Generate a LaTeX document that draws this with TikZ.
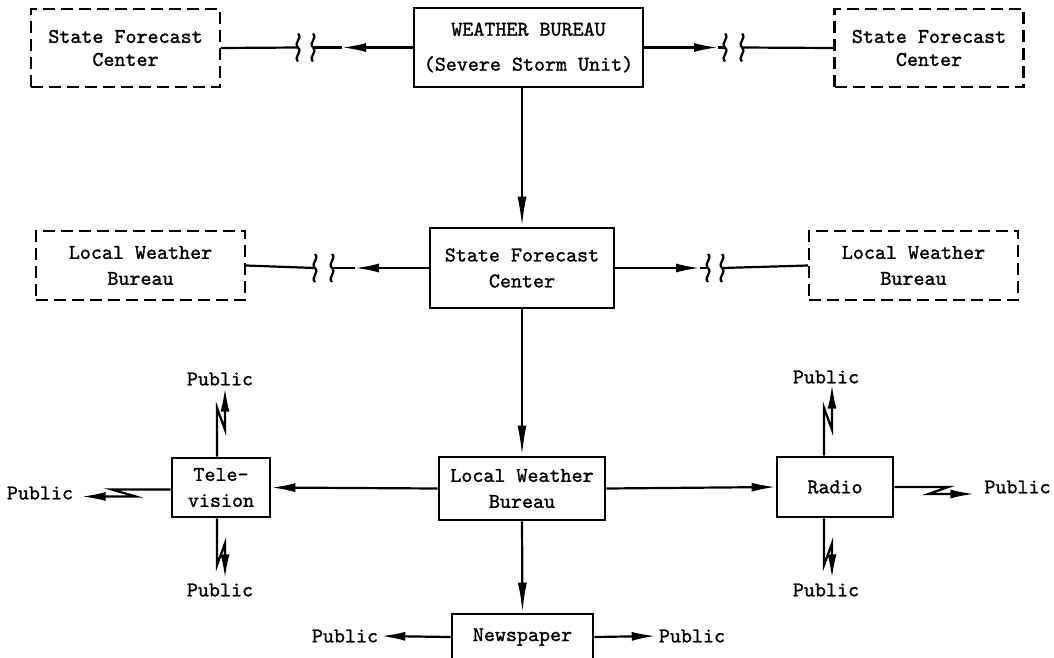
\documentclass[tikz,border=0pt]{standalone}
\usepackage{fontspec}
\newfontfamily\tw[FakeBold=1.2]{lmmono10-regular.otf}
\usetikzlibrary{arrows.meta}
\tikzset{
 tt/.style={font=\tw\fontsize{21}{26}\selectfont},
 box/.style={draw, line width=2.6pt, tt, align=center, inner sep=0pt},
 dbox/.style={box, dash pattern=on 12pt off 6pt, line width=2.4pt},
 ln/.style={line width=2.2pt},
 arr/.style={ln, -{Latex[length=24pt,width=9pt]}},
 varr/.style={ln, -{Latex[length=30pt,width=9pt]}},
 brkline/.style={line width=2.2pt},
 brk/.pic={\draw[brkline] (0,-14) .. controls (5,-9) and (-5,-5) .. (0,0) .. controls (5,5) and (-5,9) .. (0,14);},
 lab/.style={tt, inner sep=3pt},
}
\begin{document}
\begin{tikzpicture}[x=1pt,y=-1pt]
\useasboundingbox (0,0) rectangle (1054,657);
\clip (0,0) rectangle (1054,657);
% boxes
\node[dbox, minimum width=189pt, minimum height=78pt] (sfcL) at (125.5,48) {State Forecast\\[-3pt]Center};
\node[box, minimum width=229pt, minimum height=79pt] (wb) at (528.5,47.5) {WEATHER BUREAU\\[9pt](Severe Storm Unit)};
\node[dbox, minimum width=189pt, minimum height=78pt] (sfcR) at (929,48) {State Forecast\\[-3pt]Center};
\node[box, minimum width=184pt, minimum height=80pt] (sfc) at (522,268) {State Forecast\\Center};
\node[dbox, minimum width=209pt, minimum height=69pt] (lwbL) at (140.5,265.5) {Local Weather\\Bureau};
\node[dbox, minimum width=209pt, minimum height=69pt] (lwbR) at (913.5,265.5) {Local Weather\\Bureau};
\node[box, minimum width=166pt, minimum height=63pt] (lwb) at (522,488.5) {Local Weather\\Bureau};
\node[box, minimum width=98pt, minimum height=59pt] (tv) at (221,487.5) {Tele-\\vision};
\node[box, minimum width=116pt, minimum height=60pt] (radio) at (835,487) {Radio};
\node[box, minimum width=141pt, minimum height=46pt] (news) at (522.5,637) {Newspaper};
% labels
\node[lab] (ptu) at (220,379) {Public};
\node[lab] (ptd) at (220,590) {Public};
\node[lab] (ptl) at (40,493) {Public};
\node[lab] (pru) at (826,377) {Public};
\node[lab] (prd) at (826,590) {Public};
\node[lab] (prr) at (1017.5,487) {Public};
\node[lab] (pnl) at (345,636) {Public};
\node[lab] (pnr) at (692,636) {Public};
% row 1 broken connectors
\coordinate (a1) at (342,47.5); \coordinate (b1r) at (313,47.5); \coordinate (b1l) at (298,47.5);
\draw[arr] (wb.west) -- (a1); \draw[ln] (a1) -- (b1r); \draw[ln] (b1l) -- (sfcL.east);
\pic at (b1r) {brk}; \pic at (b1l) {brk};
\coordinate (a2) at (718,47.5); \coordinate (b2l) at (725,47.5); \coordinate (b2r) at (742,47.5);
\draw[arr] (wb.east) -- (a2); \draw[ln] (a2) -- (b2l); \draw[ln] (b2r) -- (sfcR.west);
\pic at (b2l) {brk}; \pic at (b2r) {brk};
% row 2 broken connectors
\coordinate (a3) at (355,268); \coordinate (b3r) at (332,268); \coordinate (b3l) at (315,268);
\draw[arr] (sfc.west) -- (a3); \draw[ln] (a3) -- (b3r); \draw[ln] (b3l) -- (lwbL.east);
\pic at (b3r) {brk}; \pic at (b3l) {brk};
\coordinate (a4) at (700,268); \coordinate (b4l) at (708,268); \coordinate (b4r) at (722,268);
\draw[arr] (sfc.east) -- (a4); \draw[ln] (a4) -- (b4l); \draw[ln] (b4r) -- (lwbR.west);
\pic at (b4l) {brk}; \pic at (b4r) {brk};
% main vertical
\draw[varr] (wb.south -| sfc.north) -- (sfc.north);
\draw[varr] (sfc.south) -- (lwb.north);
\draw[varr] (lwb.south) -- (news.north);
\draw[arr] (lwb.west) -- (tv.east);
\draw[arr] (lwb.east) -- (radio.west);
% lightning links
\draw[arr] ([xshift=-4pt]tv.north) -- ++(0,-49) -- ++(8,22) -- ++(0,-42);
\draw[arr] ([xshift=-4pt]tv.south) -- ++(0,47) -- ++(8,-22) -- ++(0,35);
\draw[arr] ([yshift=-2pt]tv.west) -- ++(-59,0) -- ++(24,7) -- ++(-54,0);
\draw[arr] ([xshift=-11pt]radio.north) -- ++(0,-48) -- ++(8,22) -- ++(0,-45);
\draw[arr] ([xshift=-11pt]radio.south) -- ++(0,47) -- ++(8,-22) -- ++(0,35);
\draw[arr] (radio.east) -- ++(54,0) -- ++(-20,7) -- ++(46,0);
\draw[arr] (news.west) -- (pnl.east);
\draw[arr] (news.east) -- (pnr.west);
\end{tikzpicture}
\end{document}
